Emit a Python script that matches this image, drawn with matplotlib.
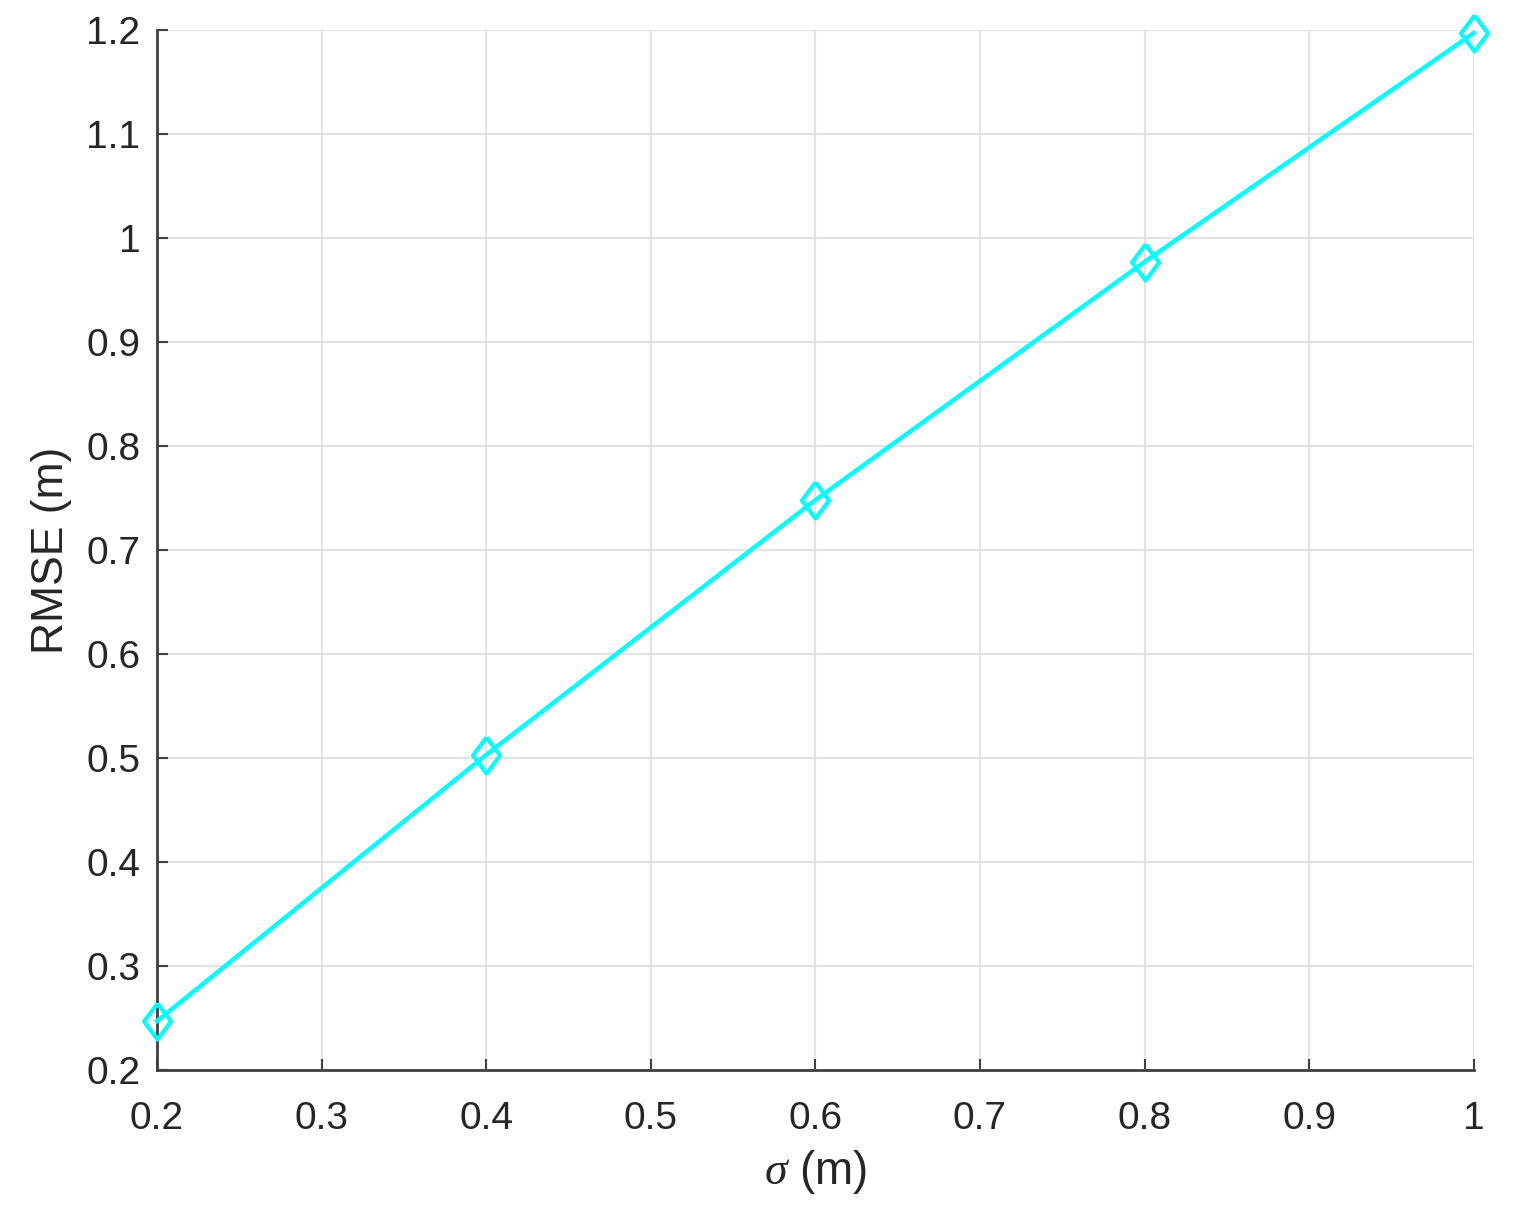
import numpy as np
import matplotlib.pyplot as plt

# RMSE versus noise level sigma
sigma = [0.2, 0.4, 0.6, 0.8, 1.0]
rmse = [0.247, 0.503, 0.748, 0.977, 1.197]

xticks = [0.2, 0.3, 0.4, 0.5, 0.6, 0.7, 0.8, 0.9, 1.0]
xticklabels = ['0.2', '0.3', '0.4', '0.5', '0.6', '0.7', '0.8', '0.9', '1']
yticks = [0.2, 0.3, 0.4, 0.5, 0.6, 0.7, 0.8, 0.9, 1.0, 1.1, 1.2]
yticklabels = ['0.2', '0.3', '0.4', '0.5', '0.6', '0.7', '0.8', '0.9', '1', '1.1', '1.2']

plt.rcParams['font.family'] = ['Liberation Sans', 'DejaVu Sans']
plt.rcParams['mathtext.fontset'] = 'custom'
plt.rcParams['mathtext.it'] = 'Liberation Serif:italic'

fig = plt.figure(figsize=(15.24, 12.22), dpi=100)
ax = fig.add_axes([0.103, 0.1244, 0.864, 0.8511])

# MATLAB-like diamond (a bit taller than wide)
diamond = [(0, 1), (0.75, 0), (0, -1), (-0.75, 0), (0, 1)]

ax.plot(sigma, rmse, color=(0, 1, 1), lw=3.2, marker=diamond, ms=26,
        mfc='none', mec=(0, 1, 1), mew=3, clip_on=False, zorder=3)

ax.set_xlim(0.2, 1.0)
ax.set_ylim(0.2, 1.2)
ax.set_xticks(xticks)
ax.set_xticklabels(xticklabels)
ax.set_yticks(yticks)
ax.set_yticklabels(yticklabels)

ax.grid(True, color='#e3e3e3', lw=1.5)
ax.set_axisbelow(True)

for s in ['top', 'right']:
    ax.spines[s].set_visible(False)
for s in ['left', 'bottom']:
    ax.spines[s].set_color('#404040')
    ax.spines[s].set_linewidth(2)

ax.tick_params(direction='in', length=8, width=1.5, colors='#404040',
               labelsize=28, labelcolor='#262626')
ax.tick_params(axis='x', pad=22)
ax.tick_params(axis='y', pad=12)

ax.set_xlabel(r'$\sigma$ (m)', fontsize=33, color='#262626', labelpad=8)
ax.set_ylabel('RMSE (m)', fontsize=32, color='#262626', labelpad=10)

fig.savefig('out.png', dpi=100, facecolor='white')
